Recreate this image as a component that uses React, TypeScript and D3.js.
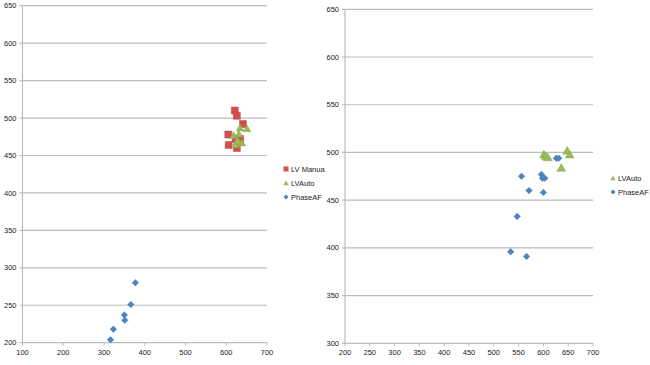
import React from 'react';
import * as d3 from 'd3';

// left chart data
const leftManual: [number, number][] = [
  [621, 510], [626, 503], [641, 492], [605, 478], [606, 464], [623, 472], [634, 472], [626, 460],
];
const leftAuto: [number, number][] = [
  [634, 487], [651, 486], [618, 477], [631, 479], [623, 465], [638, 467], [628, 470],
];
const leftPhase: [number, number][] = [
  [377, 280], [366, 251], [350, 237], [351, 230], [323, 218], [316, 204],
];

// right chart data
const rightAuto: [number, number][] = [
  [601, 498], [605, 496], [609, 495], [648, 502], [653, 498], [636, 484],
];
const rightPhase: [number, number][] = [
  [556, 475], [596, 477], [598, 473], [603, 473], [571, 460], [600, 458], [547, 433],
  [534, 396], [566, 391], [626, 494], [631, 494],
];

const leftXTicks = [100, 200, 300, 400, 500, 600, 700];
const leftYTicks = [200, 250, 300, 350, 400, 450, 500, 550, 600, 650];
const rightXTicks = [200, 250, 300, 350, 400, 450, 500, 550, 600, 650, 700];
const rightYTicks = [300, 350, 400, 450, 500, 550, 600, 650];

const RED = '#D0504C';
const GREEN = '#9BBB59';
const BLUE = '#4A84C4';
const GRID = '#BDBDBD';
const FONT = '"Liberation Sans", Arial, sans-serif';

const square = (s: number) => `M${-s / 2},${-s / 2}h${s}v${s}h${-s}Z`;
const triangle = (s: number) => `M0,${-s * 0.5}L${s * 0.55},${s * 0.45}L${-s * 0.55},${s * 0.45}Z`;
const diamond = (s: number) => `M0,${-s / 2}L${s / 2},0L0,${s / 2}L${-s / 2},0Z`;

interface PanelProps {
  xDomain: [number, number];
  yDomain: [number, number];
  xRange: [number, number];
  yRange: [number, number];
  xTicks: number[];
  yTicks: number[];
  series: { data: [number, number][]; color: string; shape: (s: number) => string; size: number }[];
}

const Panel: React.FC<PanelProps> = ({ xDomain, yDomain, xRange, yRange, xTicks, yTicks, series }) => {
  const x = d3.scaleLinear().domain(xDomain).range(xRange);
  const y = d3.scaleLinear().domain(yDomain).range(yRange);
  return (
    <g>
      {yTicks.map((t) => (
        <g key={'y' + t}>
          <line x1={xRange[0] - 3} x2={xRange[1]} y1={y(t)} y2={y(t)} stroke={GRID} strokeWidth={1.2} />
          <text x={xRange[0] - 6} y={y(t)} dy="0.35em" textAnchor="end" fontSize={7.5} fill="#222" fontFamily={FONT}>
            {t}
          </text>
        </g>
      ))}
      <line x1={xRange[0]} x2={xRange[0]} y1={yRange[0]} y2={yRange[1]} stroke={GRID} strokeWidth={1.2} />
      {xTicks.map((t) => (
        <g key={'x' + t}>
          <line x1={x(t)} x2={x(t)} y1={yRange[0]} y2={yRange[0] + 3} stroke={GRID} strokeWidth={1} />
          <text x={x(t)} y={yRange[0] + 12} textAnchor="middle" fontSize={7.5} fill="#222" fontFamily={FONT}>
            {t}
          </text>
        </g>
      ))}
      {series.map((s, i) =>
        s.data.map((d, j) => (
          <path
            key={i + '-' + j}
            d={s.shape(s.size)}
            transform={`translate(${x(d[0])},${y(d[1])})`}
            fill={s.color}
            stroke={d3.color(s.color)!.darker(0.3).toString()}
            strokeWidth={0.5}
          />
        ))
      )}
    </g>
  );
};

const Legend: React.FC<{ x: number; y: number; items: { label: string; color: string; shape: (s: number) => string }[] }> = ({ x, y, items }) => (
  <g transform={`translate(${x},${y})`}>
    {items.map((it, i) => (
      <g key={it.label} transform={`translate(0,${i * 14})`}>
        <path d={it.shape(5)} fill={it.color} />
        <text x={5} y={0} dy="0.35em" fontSize={7.5} fill="#222" fontFamily={FONT}>
          {it.label}
        </text>
      </g>
    ))}
  </g>
);

export default function App() {
  return (
    <svg width={650} height={365} style={{ position: 'absolute', left: 0, top: 0, background: '#fff' }}>
      <Panel
        xDomain={[100, 700]}
        yDomain={[200, 650]}
        xRange={[22.5, 267]}
        yRange={[342.7, 5.7]}
        xTicks={leftXTicks}
        yTicks={leftYTicks}
        series={[
          { data: leftManual, color: RED, shape: square, size: 7 },
          { data: leftAuto, color: GREEN, shape: triangle, size: 7 },
          { data: leftPhase, color: BLUE, shape: diamond, size: 6.5 },
        ]}
      />
      <Legend
        x={286}
        y={169}
        items={[
          { label: 'LV Manua', color: RED, shape: square },
          { label: 'LVAuto', color: GREEN, shape: triangle },
          { label: 'PhaseAF', color: BLUE, shape: diamond },
        ]}
      />
      <Panel
        xDomain={[200, 700]}
        yDomain={[300, 650]}
        xRange={[345, 593]}
        yRange={[343.3, 9.3]}
        xTicks={rightXTicks}
        yTicks={rightYTicks}
        series={[
          { data: rightAuto, color: GREEN, shape: triangle, size: 8 },
          { data: rightPhase, color: BLUE, shape: diamond, size: 6.5 },
        ]}
      />
      <Legend
        x={613}
        y={178}
        items={[
          { label: 'LVAuto', color: GREEN, shape: triangle },
          { label: 'PhaseAF', color: BLUE, shape: diamond },
        ]}
      />
    </svg>
  );
}
